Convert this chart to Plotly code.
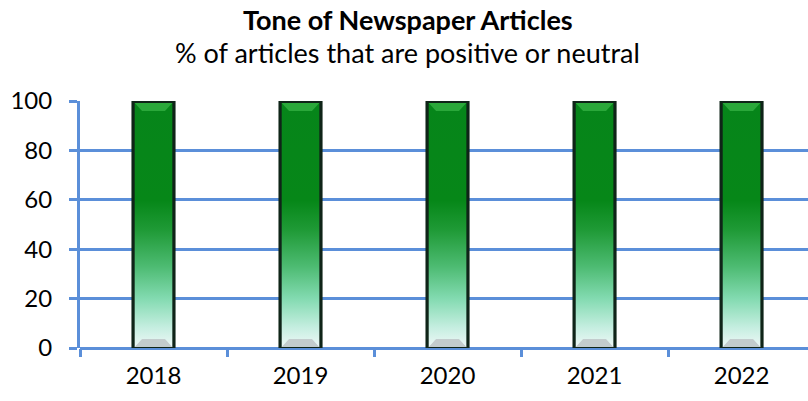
import plotly.graph_objects as go

# data
years = ["2018", "2019", "2020", "2021", "2022"]
pct_positive_neutral = [100, 100, 100, 100, 100]

grid_blue = "#5b8fd9"
xpos = list(range(len(years)))

fig = go.Figure()

# dark frame of each bar
fig.add_trace(go.Bar(
    x=xpos, y=pct_positive_neutral, width=0.3,
    marker=dict(color="#0f2418", line=dict(width=0)),
    hoverinfo="skip", showlegend=False,
))

# gradient body (inset inside the frame), built from the same values
half_in = 0.128
bx, by = [], []
for x, v in zip(xpos, pct_positive_neutral):
    bx += [x - half_in, x + half_in, x + half_in, x - half_in, x - half_in, None]
    by += [0.4, 0.4, v - 0.8, v - 0.8, 0.4, None]
fig.add_trace(go.Scatter(
    x=bx, y=by, mode="lines", fill="toself", line=dict(width=0),
    fillgradient=dict(
        type="vertical",
        colorscale=[[0, "#eef8f7"], [0.08, "#c5eee0"], [0.2, "#82dab0"],
                    [0.33, "#4dbb72"], [0.48, "#1f9a36"], [0.6, "#068718"],
                    [1, "#06851a"]],
    ),
    hoverinfo="skip", showlegend=False,
))

# top bevel (lighter green) and bottom bevel (grey) of each bar
bev = 3.2
tx, ty, ux, uy = [], [], [], []
for x, v in zip(xpos, pct_positive_neutral):
    tx += [x - half_in, x + half_in, x + half_in - 0.05, x - half_in + 0.05, x - half_in, None]
    ty += [v - 0.8, v - 0.8, v - 0.8 - bev, v - 0.8 - bev, v - 0.8, None]
    ux += [x - half_in, x + half_in, x + half_in - 0.05, x - half_in + 0.05, x - half_in, None]
    uy += [0.4, 0.4, 0.4 + bev, 0.4 + bev, 0.4, None]
fig.add_trace(go.Scatter(
    x=tx, y=ty, mode="lines", fill="toself", line=dict(width=0),
    fillcolor="#2aa83a", hoverinfo="skip", showlegend=False,
))
fig.add_trace(go.Scatter(
    x=ux, y=uy, mode="lines", fill="toself", line=dict(width=0),
    fillcolor="#c3cccd", hoverinfo="skip", showlegend=False,
))

fig.add_annotation(text="<b>Tone of Newspaper Articles</b>", xref="paper", yref="paper",
                   x=0.4505, y=1.33, xanchor="center", yanchor="middle",
                   showarrow=False, font=dict(size=27))
fig.add_annotation(text="% of articles that are positive or neutral", xref="paper", yref="paper",
                   x=0.4505, y=1.196, xanchor="center", yanchor="middle",
                   showarrow=False, font=dict(size=27))

fig.update_layout(
    width=808, height=401,
    margin=dict(l=80, r=0, t=101, b=53),
    paper_bgcolor="white", plot_bgcolor="white",
    font=dict(family="Lato, sans-serif", size=24, color="#000000"),
    xaxis=dict(
        range=[-0.5, 4.452], tickmode="array", tickvals=xpos, ticktext=years,
        ticks="outside", ticklen=6, tickcolor="rgba(0,0,0,0)",
        showgrid=False, zeroline=False, showline=False,
        minor=dict(tickmode="array", tickvals=[-0.5, 0.5, 1.5, 2.5, 3.5],
                   ticks="outside", ticklen=8, tickwidth=3, tickcolor=grid_blue,
                   showgrid=False),
        fixedrange=True,
    ),
    yaxis=dict(
        range=[0, 100], tickvals=[0, 20, 40, 60, 80, 100],
        ticks="outside", ticklen=8, tickwidth=3, tickcolor=grid_blue,
        showgrid=True, gridcolor=grid_blue, gridwidth=2.5,
        zeroline=True, zerolinecolor=grid_blue, zerolinewidth=3,
        showline=True, linecolor=grid_blue, linewidth=3,
        ticklabelstandoff=12,
        fixedrange=True,
    ),
)

# page body margin would shift the figure by 8px
fig.write_html("out.html", config={"displayModeBar": False},
               post_script="document.body.style.margin='0';")
